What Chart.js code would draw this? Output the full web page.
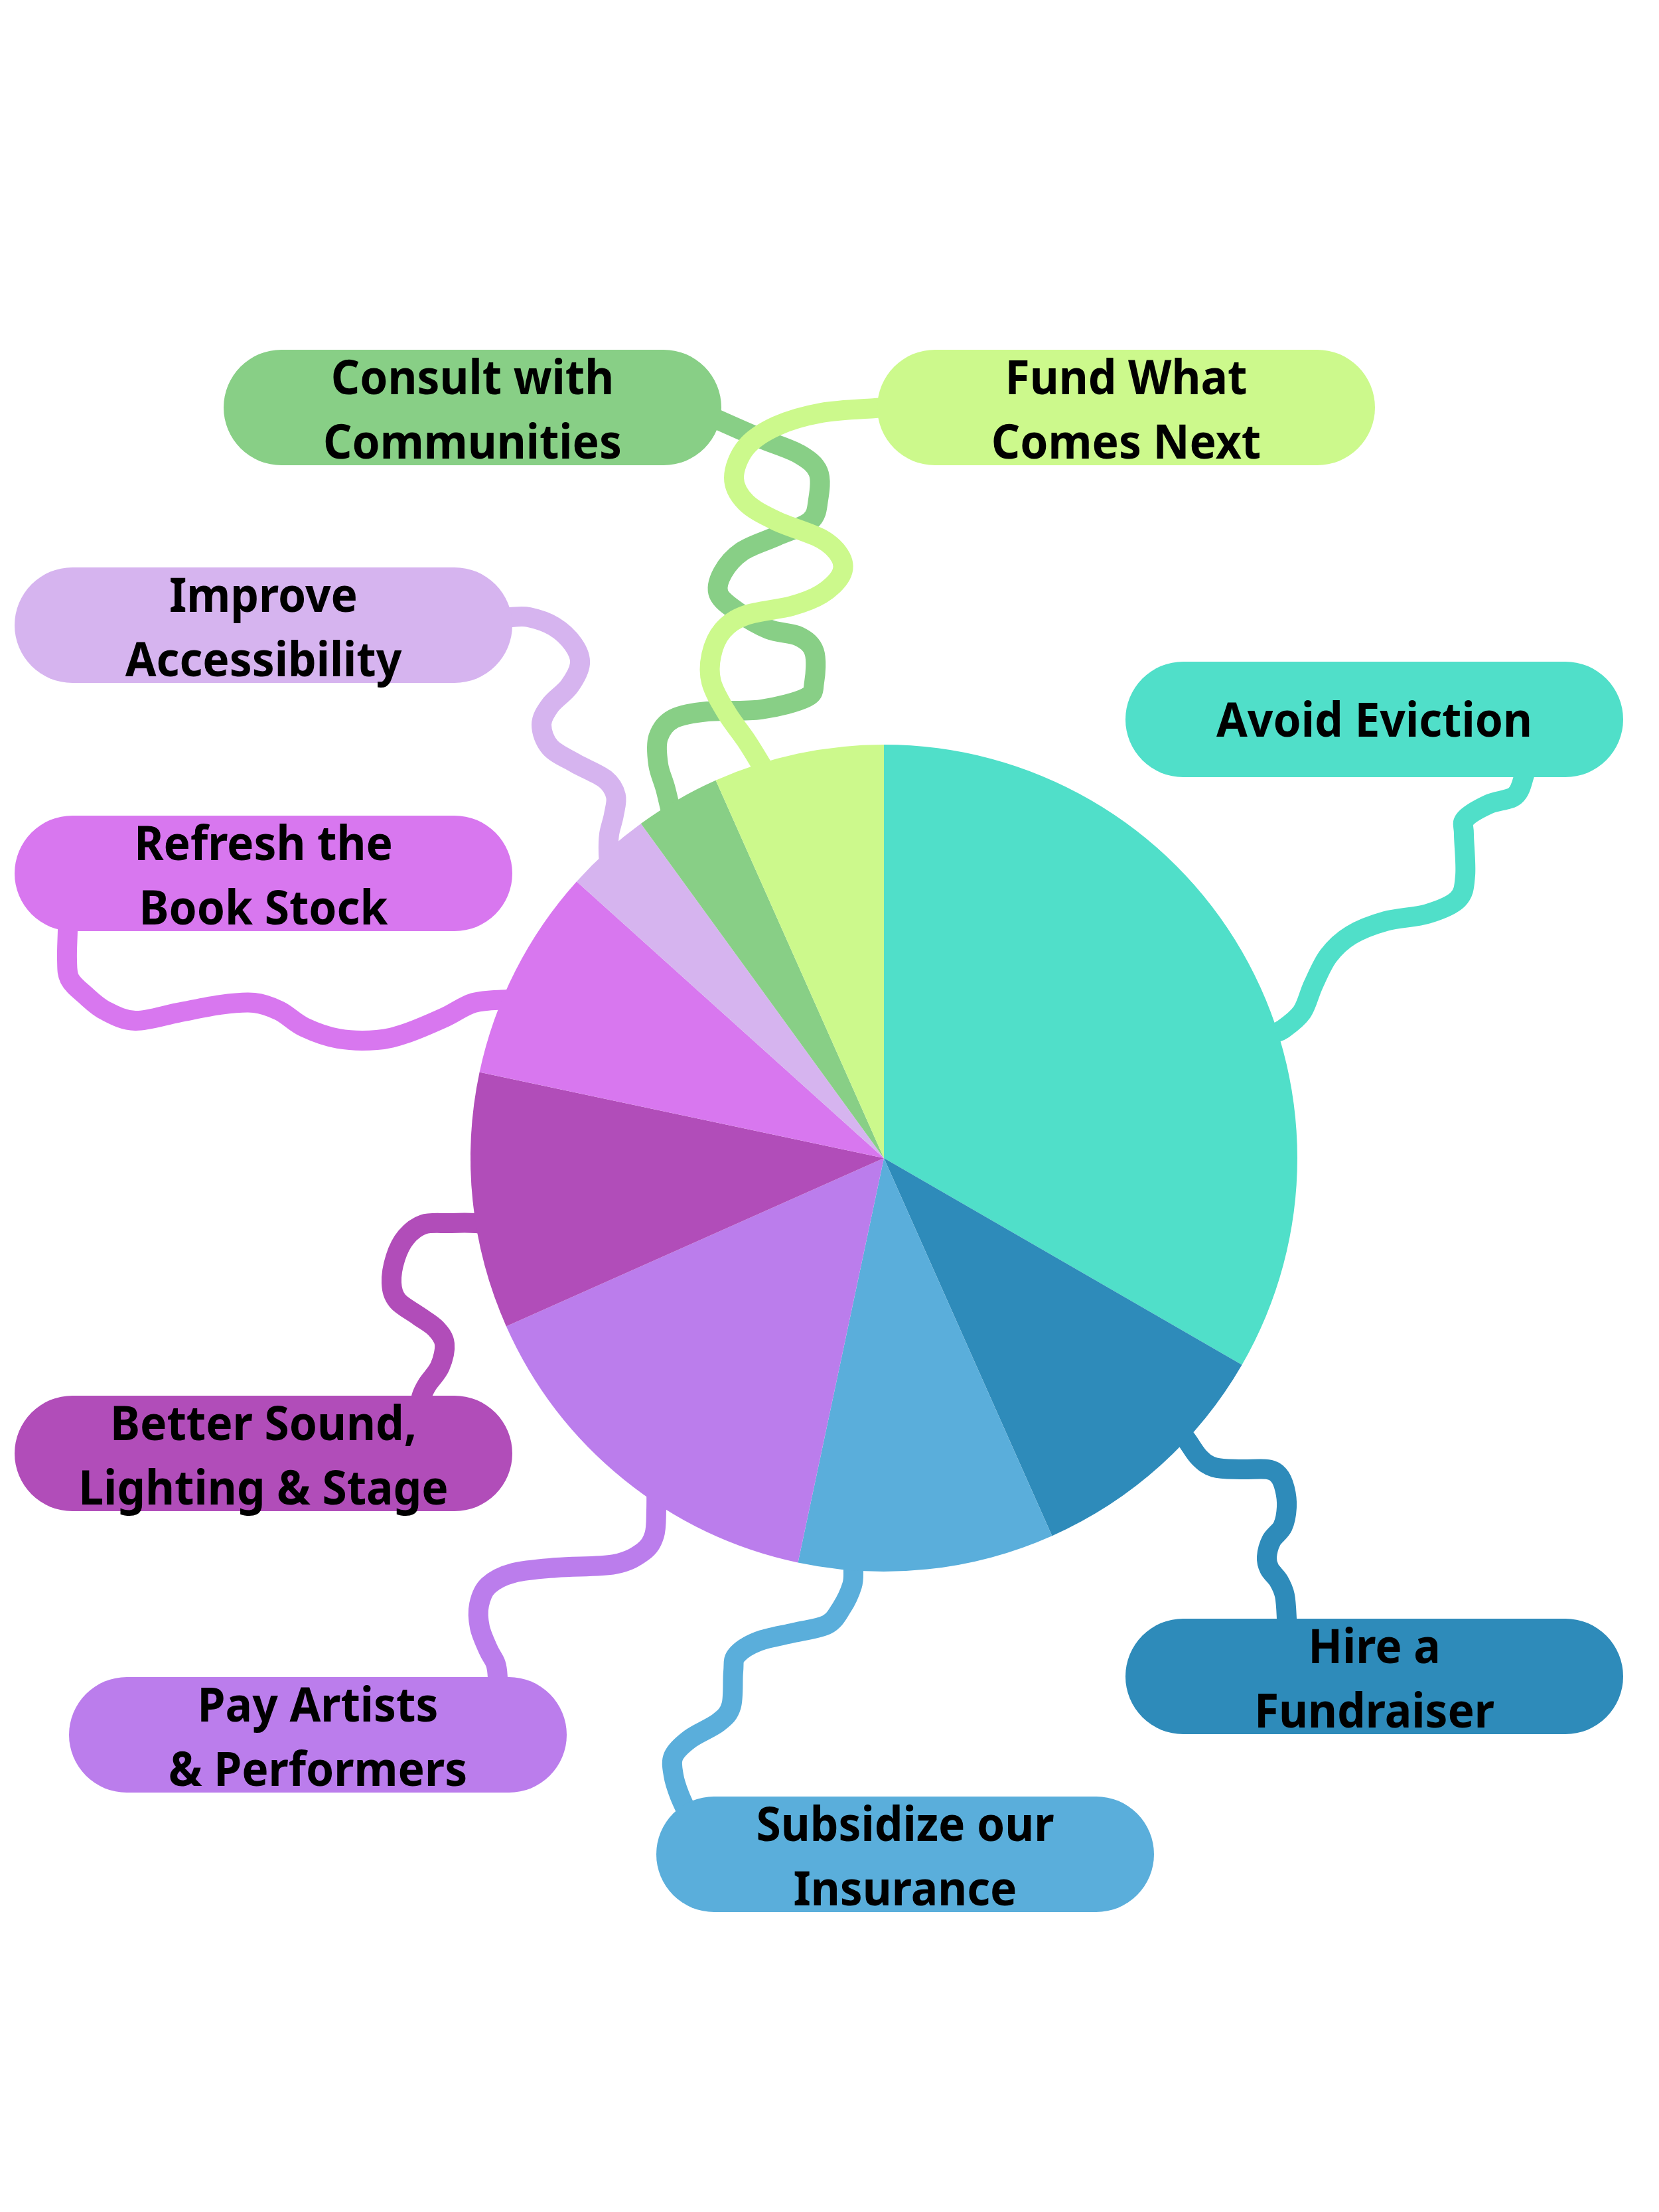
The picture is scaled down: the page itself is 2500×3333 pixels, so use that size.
<!DOCTYPE html>
<html>
<head>
<meta charset="utf-8">
<script src="https://cdn.jsdelivr.net/npm/chart.js@4.4.1/dist/chart.umd.min.js"></script>
<style>
  html, body { margin: 0; padding: 0; background: #ffffff; }
  canvas { display: block; }
</style>
</head>
<body>
<canvas id="budgetPie" width="2500" height="3333"></canvas>
<script>
// Budget split (60 parts in total, 6 degrees each)
const categories = [
  'Avoid Eviction',
  'Hire a Fundraiser',
  'Subsidize our Insurance',
  'Pay Artists & Performers',
  'Better Sound, Lighting & Stage',
  'Refresh the Book Stock',
  'Improve Accessibility',
  'Consult with Communities',
  'Fund What Comes Next'
];
const shares = [20, 6, 6, 9, 6, 5, 2, 2, 4];
const labelLines = [
  ['Avoid Eviction'],
  ['Hire a', 'Fundraiser'],
  ['Subsidize our', 'Insurance'],
  ['Pay Artists', '& Performers'],
  ['Better Sound,', 'Lighting & Stage'],
  ['Refresh the', 'Book Stock'],
  ['Improve', 'Accessibility'],
  ['Consult with', 'Communities'],
  ['Fund What', 'Comes Next']
];

const sliceColors = ['#50DFC9', '#2E8BBA', '#5AAEDB', '#BB7DEC', '#B14DB9', '#D877EF', '#D6B4EF', '#88CF86', '#CCF98C'];

// pill positions (top-left corner) and wavy connector paths, same order as categories
const pills = [
  { x: 1696, y: 997 },
  { x: 1696, y: 2439 },
  { x: 989, y: 2707 },
  { x: 104, y: 2527 },
  { x: 22, y: 2103 },
  { x: 22, y: 1229 },
  { x: 22, y: 855 },
  { x: 337, y: 527 },
  { x: 1322, y: 527 }
];
const PILL_W = 750, PILL_H = 174;

const connectors = [
  // Avoid Eviction
  [[2300, 1150], [2297, 1168], [2283, 1199], [2243, 1212], [2208, 1234], [2206, 1257], [2208, 1319], [2197, 1355],
   [2151, 1377], [2088, 1388], [2036, 1409], [2002, 1440], [1979, 1484], [1962, 1525], [1933, 1551], [1913, 1560], [1890, 1578]],
  // Hire a Fundraiser
  [[1770, 2150], [1787, 2168], [1807, 2196], [1830, 2211], [1870, 2214], [1910, 2214], [1927, 2223], [1936, 2243],
   [1939, 2271], [1933, 2300], [1916, 2321], [1909, 2346], [1913, 2364], [1927, 2382], [1936, 2404], [1939, 2439], [1939, 2465]],
  // Subsidize our Insurance
  [[1286, 2340], [1286, 2364], [1284, 2389], [1268, 2423], [1246, 2448], [1197, 2460], [1143, 2473], [1110, 2494],
   [1105, 2519], [1102, 2570], [1083, 2595], [1040, 2620], [1015, 2646], [1015, 2675], [1024, 2705], [1040, 2740]],
  // Pay Artists & Performers
  [[989, 2230], [989, 2275], [986, 2313], [969, 2338], [926, 2357], [839, 2362], [774, 2370], [736, 2389],
   [722, 2418], [723, 2452], [736, 2486], [747, 2507], [750, 2528], [750, 2555]],
  // Better Sound, Lighting & Stage
  [[760, 1848], [717, 1843], [676, 1843], [638, 1845], [612, 1864], [596, 1895], [590, 1933], [599, 1960],
   [631, 1983], [657, 2002], [670, 2025], [663, 2059], [644, 2086], [635, 2105], [632, 2130]],
  // Refresh the Book Stock
  [[102, 1380], [102, 1402], [101, 1446], [105, 1475], [128, 1499], [159, 1523], [204, 1538], [268, 1526],
   [332, 1514], [383, 1511], [421, 1523], [459, 1548], [510, 1565], [568, 1567], [612, 1557], [670, 1533],
   [714, 1511], [765, 1506], [805, 1504]],
  // Improve Accessibility
  [[745, 930], [768, 930], [797, 930], [835, 944], [864, 971], [874, 1000], [858, 1034], [829, 1063], [816, 1092],
   [829, 1126], [867, 1150], [912, 1174], [928, 1199], [925, 1228], [918, 1257], [917, 1286], [920, 1320]],
  // Consult with Communities
  [[1060, 622], [1083, 633], [1147, 661], [1204, 684], [1233, 711], [1233, 753], [1221, 785], [1170, 808],
   [1118, 831], [1089, 863], [1083, 895], [1112, 922], [1158, 948], [1204, 959], [1227, 982], [1227, 1028],
   [1215, 1051], [1147, 1069], [1066, 1072], [1015, 1083], [992, 1111], [992, 1152], [1003, 1189], [1015, 1240]],
  // Fund What Comes Next
  [[1345, 614], [1319, 615], [1238, 622], [1170, 642], [1124, 674], [1106, 720], [1124, 757], [1170, 785],
   [1238, 812], [1267, 840], [1267, 867], [1238, 895], [1193, 913], [1124, 927], [1089, 950], [1072, 987],
   [1072, 1028], [1095, 1074], [1124, 1115], [1147, 1152], [1170, 1190]]
];

function smoothPath(ctx, pts) {
  ctx.moveTo(pts[0][0], pts[0][1]);
  for (let i = 0; i < pts.length - 1; i++) {
    const p0 = pts[i - 1] || pts[i];
    const p1 = pts[i];
    const p2 = pts[i + 1];
    const p3 = pts[i + 2] || p2;
    ctx.bezierCurveTo(
      p1[0] + (p2[0] - p0[0]) / 6, p1[1] + (p2[1] - p0[1]) / 6,
      p2[0] - (p3[0] - p1[0]) / 6, p2[1] - (p3[1] - p1[1]) / 6,
      p2[0], p2[1]
    );
  }
}

// wavy strings go under the pie so it hides their ends
const connectorPlugin = {
  id: 'connectors',
  beforeDatasetsDraw(chart) {
    const ctx = chart.ctx;
    ctx.save();
    ctx.lineWidth = 30;
    ctx.lineJoin = 'round';
    ctx.lineCap = 'butt';
    connectors.forEach((pts, i) => {
      ctx.beginPath();
      smoothPath(ctx, pts);
      ctx.strokeStyle = sliceColors[i];
      ctx.stroke();
    });
    ctx.restore();
  }
};

// rounded label pills on top of everything
const pillPlugin = {
  id: 'pills',
  afterDraw(chart) {
    const ctx = chart.ctx;
    ctx.save();
    ctx.font = '700 72px "Noto Sans", "Open Sans", sans-serif';
    ctx.textAlign = 'center';
    ctx.textBaseline = 'alphabetic';
    const drawLine = (txt, x, y) => {
      // the original lettering is a touch narrower than Noto Sans
      const w = ctx.measureText(txt).width * 0.94;
      ctx.fillText(txt, x, y, w);
    };
    pills.forEach((p, i) => {
      ctx.beginPath();
      ctx.roundRect(p.x, p.y, PILL_W, PILL_H, PILL_H / 2);
      ctx.fillStyle = sliceColors[i];
      ctx.fill();

      const cx = p.x + PILL_W / 2;
      const cy = p.y + PILL_H / 2;
      const lines = labelLines[i];
      ctx.fillStyle = '#000000';
      if (lines.length === 1) {
        drawLine(lines[0], cx, cy + 26);
      } else {
        drawLine(lines[0], cx, cy - 20);
        drawLine(lines[1], cx, cy + 77);
      }
    });
    ctx.restore();
  }
};

const ctxPie = document.getElementById('budgetPie').getContext('2d');

new Chart(ctxPie, {
  type: 'pie',
  data: {
    labels: categories,
    datasets: [{
      data: shares,
      backgroundColor: sliceColors,
      borderWidth: 0,
      offset: 0,
      hoverOffset: 0
    }]
  },
  options: {
    responsive: false,
    animation: false,
    devicePixelRatio: 1,
    events: [],
    layout: {
      padding: { left: 709, right: 545, top: 1122, bottom: 965 }
    },
    plugins: {
      legend: { display: false },
      tooltip: { enabled: false }
    }
  },
  plugins: [connectorPlugin, pillPlugin]
});
</script>
</body>
</html>
